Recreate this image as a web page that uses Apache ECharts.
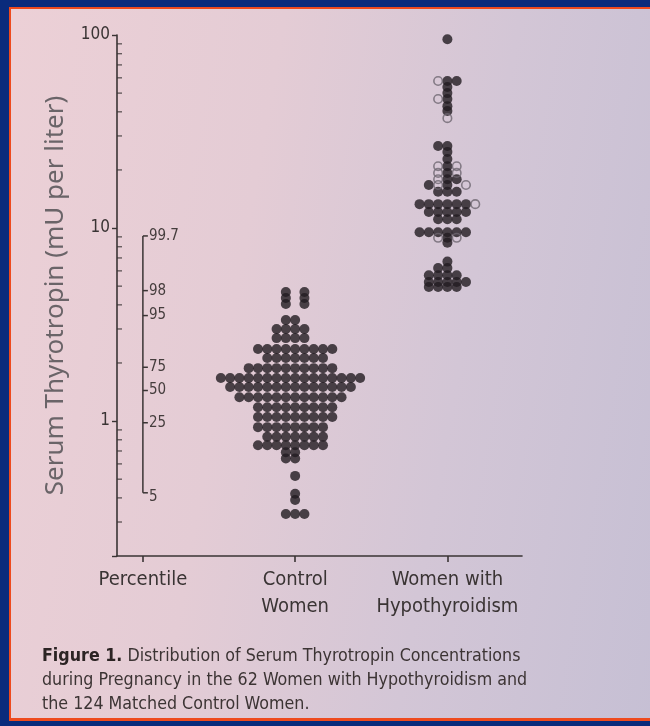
<!DOCTYPE html>
<html><head><meta charset="utf-8">
<script src="https://cdn.jsdelivr.net/npm/echarts@6/dist/echarts.min.js"></script>
<style>
html,body{margin:0;padding:0;width:650px;height:726px;overflow:hidden;background:#0a2b7c;}
#paper{position:absolute;left:9px;top:7px;width:660px;height:709px;border-left:2px solid #ee4a1e;border-top:2px solid #ee4a1e;border-bottom:3px solid #ee4a1e;
background:linear-gradient(100deg,#ecd0d6 0%,#e4ccd5 35%,#d3c6d6 65%,#c5bfd4 100%);}
#chart{position:absolute;left:0;top:0;width:650px;height:726px;}
</style></head>
<body><div id="paper"></div><div id="chart"></div>
<script>
// ---- data ----
const categories = ['Percentile', 'Control\nWomen', 'Women with\nHypothyroidism'];
const yTickLabels = [1, 10, 100];
const yMinorTicks = [0.3,0.4,0.5,0.6,0.7,0.8,0.9,2,3,4,5,6,7,8,9,20,30,40,50,60,70,80,90];
const percentileNames = ['99.7','98','95','75','50','25','5'];
const percentileValues = [9.1, 4.74, 3.52, 1.90, 1.44, 0.98, 0.425];

// Control women: TSH value of each row of dots and the dot pattern of that row (x = dot, columns -8..+8)
const controlValues = [4.66,4.34,4.04,3.34,3.00,2.69,2.36,2.12,1.88,1.67,1.50,1.33,1.18,1.05,0.93,0.83,0.75,0.69,0.64,0.52,0.42,0.39,0.33];
const controlRows = [
  '.......x.x.......',
  '.......x.x.......',
  '.......x.x.......',
  '.......xx........',
  '......xxxx.......',
  '......xxxx.......',
  '....xxxxxxxxx....',
  '.....xxxxxxx.....',
  '...xxxxxxxxxx....',
  'xxxxxxxxxxxxxxxx.',
  '.xxxxxxxxxxxxxx..',
  '..xxxxxxxxxxxx...',
  '....xxxxxxxxx....',
  '....xxxxxxxxx....',
  '....xxxxxxxx.....',
  '.....xxxxxxx.....',
  '....xxxxxxxx.....',
  '.......xx........',
  '.......xx........',
  '........x........',
  '........x........',
  '........x........',
  '.......xxx.......'
];
// Women with hypothyroidism: x = filled dot, o = open dot, columns -4..+4
const hypoValues = [95,57.8,53.8,50.0,46.6,42.8,40.4,37.1,26.6,24.8,22.8,20.9,19.3,17.9,16.7,15.4,13.3,12.1,11.1,9.5,8.9,8.4,6.7,6.2,5.7,5.25,4.95];
const hypoRows = [
  '....x....',
  '...oxx...',
  '....x....',
  '....x....',
  '...ox....',
  '....x....',
  '....x....',
  '....o....',
  '...xx....',
  '....x....',
  '....x....',
  '...oxo...',
  '...oxo...',
  '...oxx...',
  '..xox.o..',
  '...xxx...',
  '.xxxxxxo.',
  '..xxxxx..',
  '...xxx...',
  '.xxxxxx..',
  '...oxo...',
  '....x....',
  '....x....',
  '...xx....',
  '..xxxx...',
  '..xxxxx..',
  '..xxxx...'
];

// ---- build ----
const COL = 0.061; // horizontal spacing of dots in x units
function build(values, rows, center) {
  const filled = [], open = [];
  rows.forEach((r, k) => {
    const mid = (r.length - 1) / 2;
    for (let i = 0; i < r.length; i++) {
      const c = r[i];
      if (c === 'x') filled.push([center + (i - mid) * COL, values[k]]);
      else if (c === 'o') open.push([center + (i - mid) * COL, values[k]]);
    }
  });
  return {filled, open};
}
const ctl = build(controlValues, controlRows, 2);
const hyp = build(hypoValues, hypoRows, 3);

const INK = '#3a3434';
const chart = echarts.init(document.getElementById('chart'), null, {renderer: 'canvas'});
const narrow = '"Liberation Sans Narrow","DejaVu Sans Condensed",sans-serif';
chart.setOption({
  backgroundColor: 'transparent',
  animation: false,
  grid: {left: 117, right: 128, top: 35, bottom: 170},
  xAxis: {
    type: 'value', min: 0.83, max: 3.49,
    splitLine: {show: false},
    axisLine: {show: true, lineStyle: {color: INK, width: 1.6}},
    axisTick: {show: true, customValues: [1, 2, 3], length: 6, lineStyle: {color: INK, width: 1.6}},
    axisLabel: {customValues: [1, 2, 3], formatter: v => categories[Math.round(v) - 1],
      color: INK, fontFamily: narrow, fontSize: 20, lineHeight: 27, margin: 10}
  },
  yAxis: {
    type: 'log', logBase: 10, min: 0.2, max: 100,
    name: 'Serum Thyrotropin (mU per liter)', nameLocation: 'middle', nameGap: 48, nameRotate: 90,
    nameTextStyle: {color: '#6a6468', fontSize: 26, fontFamily: '"Noto Sans",sans-serif'},
    splitLine: {show: false},
    axisLine: {show: true, lineStyle: {color: INK, width: 1.6}},
    axisTick: {show: true, length: 5, lineStyle: {color: INK, width: 1.4}},
    axisLabel: {color: INK, fontFamily: narrow, fontSize: 17, margin: 7,
      formatter: v => yTickLabels.includes(Math.round(v * 1000) / 1000) ? String(Math.round(v)) : ''}
  },
  series: [
    { // minor ticks on the y axis
      type: 'scatter', silent: true, clip: false,
      symbol: 'rect', symbolSize: [5, 1.3], symbolOffset: [2.5, 0],
      itemStyle: {color: INK},
      data: yMinorTicks.map(v => [0.83, v])
    },
    { // percentile bracket
      type: 'line', silent: true, symbol: 'none',
      lineStyle: {color: INK, width: 1.5},
      data: [[1, percentileValues[0]], [1, percentileValues[percentileValues.length - 1]]]
    },
    {
      type: 'custom', silent: true,
      data: percentileValues.map((v, i) => [1, v, i]),
      renderItem: (params, api) => {
        const p = api.coord([api.value(0), api.value(1)]);
        return {type: 'group', children: [
          {type: 'line', shape: {x1: p[0], y1: p[1], x2: p[0] + 5, y2: p[1]}, style: {stroke: INK, lineWidth: 1.5}},
          {type: 'text', x: p[0] + 6, y: p[1] + (api.value(2) === 6 ? 4 : 0), style: {text: percentileNames[api.value(2)],
            fill: '#453d3d', font: '15px ' + narrow, textVerticalAlign: 'middle'}}
        ]};
      }
    },
    {
      type: 'scatter', silent: true, symbolSize: 10,
      itemStyle: {color: '#221b20'},
      data: ctl.filled.concat(hyp.filled)
    },
    {
      type: 'scatter', silent: true, symbolSize: 8.5,
      itemStyle: {color: 'rgba(0,0,0,0)', borderColor: '#6e6670', borderWidth: 1.6},
      data: hyp.open
    }
  ],
  graphic: [{
    type: 'text', left: 42, top: 644,
    style: {
      text: '{b|Figure 1.} Distribution of Serum Thyrotropin Concentrations\nduring Pregnancy in the 62 Women with Hypothyroidism and\nthe 124 Matched Control Women.',
      font: '17.7px ' + narrow, fill: '#3c3434', lineHeight: 24,
      rich: {b: {fontWeight: 'bold', fontFamily: narrow, fontSize: 17.7, fill: '#2c2424'}}
    }
  }]
});
</script></body></html>
